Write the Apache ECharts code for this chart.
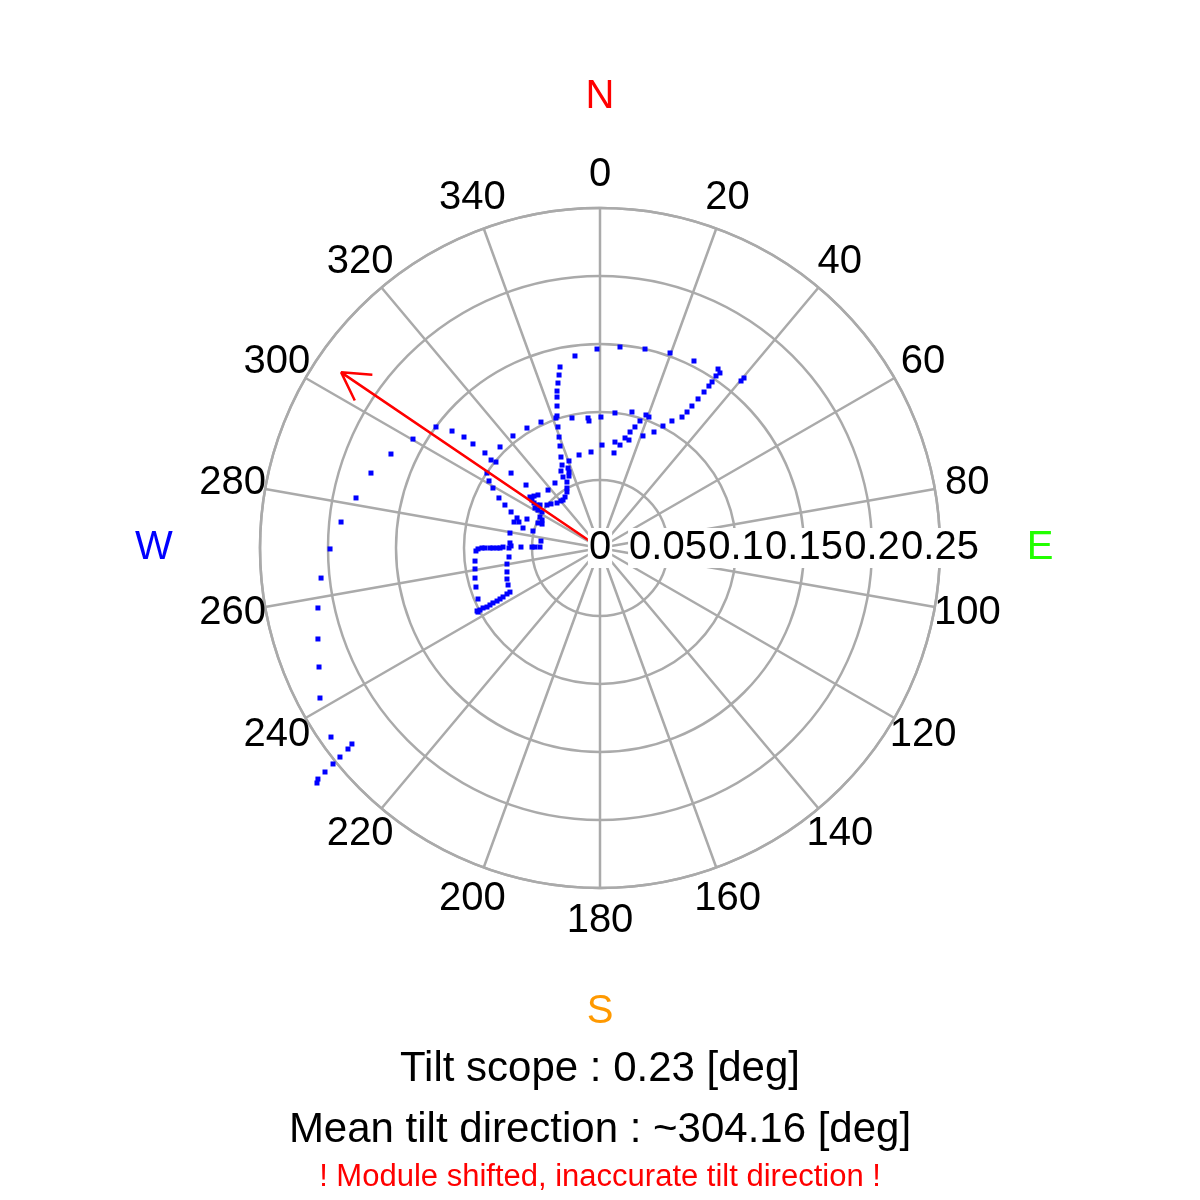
<!DOCTYPE html>
<html><head><meta charset="utf-8">
<script src="https://cdn.jsdelivr.net/npm/echarts@6/dist/echarts.min.js"></script>
<style>html,body{margin:0;padding:0;background:#fff}#c{width:1200px;height:1200px}</style>
</head><body><div id="c"></div><script>
// ---- data ----
const angleTicks = [0,20,40,60,80,100,120,140,160,180,200,220,240,260,280,300,320,340];
const radiusTicks = [0,0.05,0.1,0.15,0.2,0.25];
const cardinalNames = ['N','E','S','W'];
const cardinalAngles = [0,90,180,270];
const cardinalColors = ['#ff0000','#22ff00','#ff9900','#0000ff'];
const tiltScope = 0.23;
const meanDirection = 304.16;
// tilt components [deg] : east / north
const tiltEast = [
 -0.0184,-0.0022,0.0147,0.0331,0.0515,0.0691,0.0868,0.0882,0.0853,0.0824,0.0801,0.0765,0.0721,0.0676,0.0640,0.0603,0.0529,0.0463,0.0397,0.0316,0.0213,0.0184,0.0147,0.0110,0.0103,0.0015,-0.0066,-0.0154,0.1037,0.1059,
 -0.0434,-0.0537,-0.0316,-0.0324,-0.0206,-0.0088,-0.0081,0.0007,0.0110,0.0235,0.0338,0.0360,0.0294,0.0257,0.0221,
 -0.0294,-0.0301,-0.0309,-0.0316,-0.0316,-0.0316,-0.0309,-0.0301,-0.0294,-0.0287,-0.0279,-0.0287,-0.0272,-0.0235,-0.0228,-0.0228,-0.0228,-0.0243,-0.0243,-0.0243,-0.0257,-0.0272,-0.0287,-0.0316,-0.0360,-0.0390,
 -0.0640,-0.0735,-0.0765,-0.0801,-0.0846,-0.0934,-0.1000,-0.1088,-0.1206,-0.1375,-0.1537,-0.1684,-0.1794,-0.1904,-0.1985,-0.2051,-0.2074,-0.2074,-0.2066,-0.2059,-0.1978,-0.1824,-0.1853,-0.1912,-0.1963,-0.2022,-0.2074,-0.2081,
 -0.0654,-0.0831,-0.0816,-0.0787,-0.0743,-0.0699,-0.0654,-0.0610,-0.0632,-0.0596,-0.0537,-0.0566,-0.0662,-0.0544,-0.0382,-0.0331,
 -0.0515,-0.0485,-0.0456,-0.0500,-0.0485,-0.0463,-0.0441,-0.0478,-0.0456,-0.0426,-0.0441,-0.0426,-0.0456,-0.0426,-0.0493,
 -0.0662,-0.0654,-0.0581,-0.0500,-0.0478,-0.0441,-0.0434,
 -0.0912,-0.0897,-0.0868,-0.0846,-0.0809,-0.0787,-0.0757,-0.0735,-0.0713,-0.0669,
 -0.0669,-0.0684,-0.0684,-0.0684,-0.0676,-0.0662,
 -0.0919,-0.0919,-0.0919,-0.0912,-0.0897,-0.0904,
 -0.0684,-0.0713,-0.0735,-0.0757,-0.0787,-0.0809,-0.0831,-0.0860,-0.0882,-0.0897
];
const tiltNorth = [
 0.1412,0.1463,0.1478,0.1463,0.1434,0.1375,0.1316,0.1287,0.1265,0.1221,0.1191,0.1147,0.1096,0.1044,0.1000,0.0963,0.0934,0.0897,0.0853,0.0824,0.0794,0.0809,0.0757,0.0779,0.0699,0.0757,0.0706,0.0684,0.1228,0.1250,
 0.0926,0.0882,0.0971,0.0956,0.0956,0.0956,0.0934,0.0963,0.0993,0.1000,0.0978,0.0963,0.0934,0.0890,0.0853,
 0.1331,0.1272,0.1213,0.1154,0.1110,0.1044,0.0890,0.0816,0.0750,0.0669,0.0610,0.0566,0.0522,0.0588,0.0559,0.0529,0.0640,0.0485,0.0441,0.0412,0.0375,0.0353,0.0346,0.0331,0.0324,0.0316,
 0.0824,0.0743,0.0632,0.0647,0.0699,0.0765,0.0816,0.0860,0.0890,0.0801,0.0691,0.0551,0.0368,0.0191,-0.0007,-0.0221,-0.0441,-0.0669,-0.0875,-0.1103,-0.1390,-0.1441,-0.1478,-0.1537,-0.1588,-0.1647,-0.1699,-0.1728,
 0.0551,0.0551,0.0493,0.0441,0.0368,0.0316,0.0265,0.0221,0.0191,0.0191,0.0213,0.0147,0.0110,0.0463,0.0426,0.0478,
 0.0375,0.0382,0.0390,0.0353,0.0331,0.0316,0.0316,0.0294,0.0279,0.0265,0.0228,0.0206,0.0184,0.0176,0.0125,
 0.0037,0.0015,0.0007,0.0007,0.0007,0.0007,0.0051,
 -0.0022,-0.0007,0,0,0,0,0,0,0.0007,0,
 -0.0066,-0.0118,-0.0176,-0.0228,-0.0272,-0.0324,
 -0.0096,-0.0154,-0.0221,-0.0287,-0.0375,-0.0463,
 -0.0338,-0.0360,-0.0375,-0.0390,-0.0404,-0.0419,-0.0434,-0.0441,-0.0456,-0.0471
];
const titleLines = ['Tilt scope : 0.23 [deg]', 'Mean tilt direction : ~304.16 [deg]'];
const warningText = '! Module shifted, inaccurate tilt direction !';

// ---- build ----
const FONT = '"Liberation Sans", Arial, sans-serif';
const GRID = '#aaaaaa';
const RMAX = 0.25;
const toPolar = (e, n) => {
  const r = Math.hypot(e, n);
  let a = Math.atan2(e, n) * 180 / Math.PI;
  if (a < 0) a += 360;
  return [r, a];
};
const points = tiltEast.map((e, i) => toPolar(e, tiltNorth[i]));

// arrow: shaft + head (head length 10 % of scope, +/-30 deg)
const th = meanDirection * Math.PI / 180;
const tipE = tiltScope * Math.sin(th), tipN = tiltScope * Math.cos(th);
const headLen = 0.1 * tiltScope, headAng = 30 * Math.PI / 180;
const barb = s => {
  const bx = -Math.sin(th), by = -Math.cos(th);
  const c = Math.cos(s * headAng), sn = Math.sin(s * headAng);
  return toPolar(tipE + headLen * (bx * c - by * sn), tipN + headLen * (bx * sn + by * c));
};
const tip = [tiltScope, meanDirection];
const arrowData = [[0, meanDirection], tip, barb(1), tip, barb(-1)];

const angleLabelR = RMAX * 373 / 340;
const cardinalR = RMAX * 451 / 340;
const cardinalOffsets = [[0, 0], [-11, 0], [0, 13], [5, 0]];

const labelSeries = (data, labelOpt, z) => ({
  type: 'scatter', coordinateSystem: 'polar', clip: false, silent: true,
  symbolSize: 0.1, itemStyle: {color: 'transparent', opacity: 1}, z: z || 5,
  data, label: Object.assign({show: true, position: 'inside', fontFamily: FONT, fontSize: 40, color: '#000', opacity: 1}, labelOpt)
});

const option = {
  backgroundColor: '#fff',
  animation: false,
  textStyle: {fontFamily: FONT},
  polar: {center: [600, 548], radius: 340},
  angleAxis: {
    type: 'value', min: 0, max: 360, interval: 20, startAngle: 90, clockwise: true,
    axisLine: {show: true, lineStyle: {color: GRID, width: 2.5}},
    axisTick: {show: false}, axisLabel: {show: false},
    splitLine: {show: true, lineStyle: {color: GRID, width: 2.5}}
  },
  radiusAxis: {
    type: 'value', min: 0, max: RMAX, interval: 0.05,
    axisLine: {show: false}, axisTick: {show: false}, axisLabel: {show: false},
    splitLine: {show: true, lineStyle: {color: GRID, width: 2.5}}
  },
  title: [
    {text: titleLines[0], left: 'center', top: 1048, padding: 0, textStyle: {fontFamily: FONT, fontSize: 42, fontWeight: 'normal', color: '#000', lineHeight: 42}},
    {text: titleLines[1], left: 'center', top: 1109, padding: 0, textStyle: {fontFamily: FONT, fontSize: 42, fontWeight: 'normal', color: '#000', lineHeight: 42}},
    {text: warningText, left: 'center', top: 1162, padding: 0, textStyle: {fontFamily: FONT, fontSize: 31, fontWeight: 'normal', color: '#ff0000', lineHeight: 31}}
  ],
  series: [
    {
      type: 'scatter', coordinateSystem: 'polar', data: points, symbol: 'rect', symbolSize: 5, clip: false,
      itemStyle: {color: '#0000ff', opacity: 1}, z: 3, silent: true
    },
    {
      type: 'line', coordinateSystem: 'polar', data: arrowData, symbol: 'none', clip: false,
      lineStyle: {color: '#ff0000', width: 2.5}, z: 4, silent: true
    },
    labelSeries(angleTicks.map(a => ({value: [angleLabelR, a], label: {formatter: String(a)}}))),
    labelSeries(radiusTicks.map(r => ({value: [r, 90], label: {formatter: String(r)}})), {backgroundColor: '#fff', padding: [0, 1]}, 6),
    labelSeries(cardinalNames.map((n, i) => ({value: [cardinalR, cardinalAngles[i]], label: {formatter: n, color: cardinalColors[i], offset: cardinalOffsets[i]}})))
  ]
};
const chart = echarts.init(document.getElementById('c'), null, {renderer: 'canvas'});
chart.setOption(option);
</script></body></html>
